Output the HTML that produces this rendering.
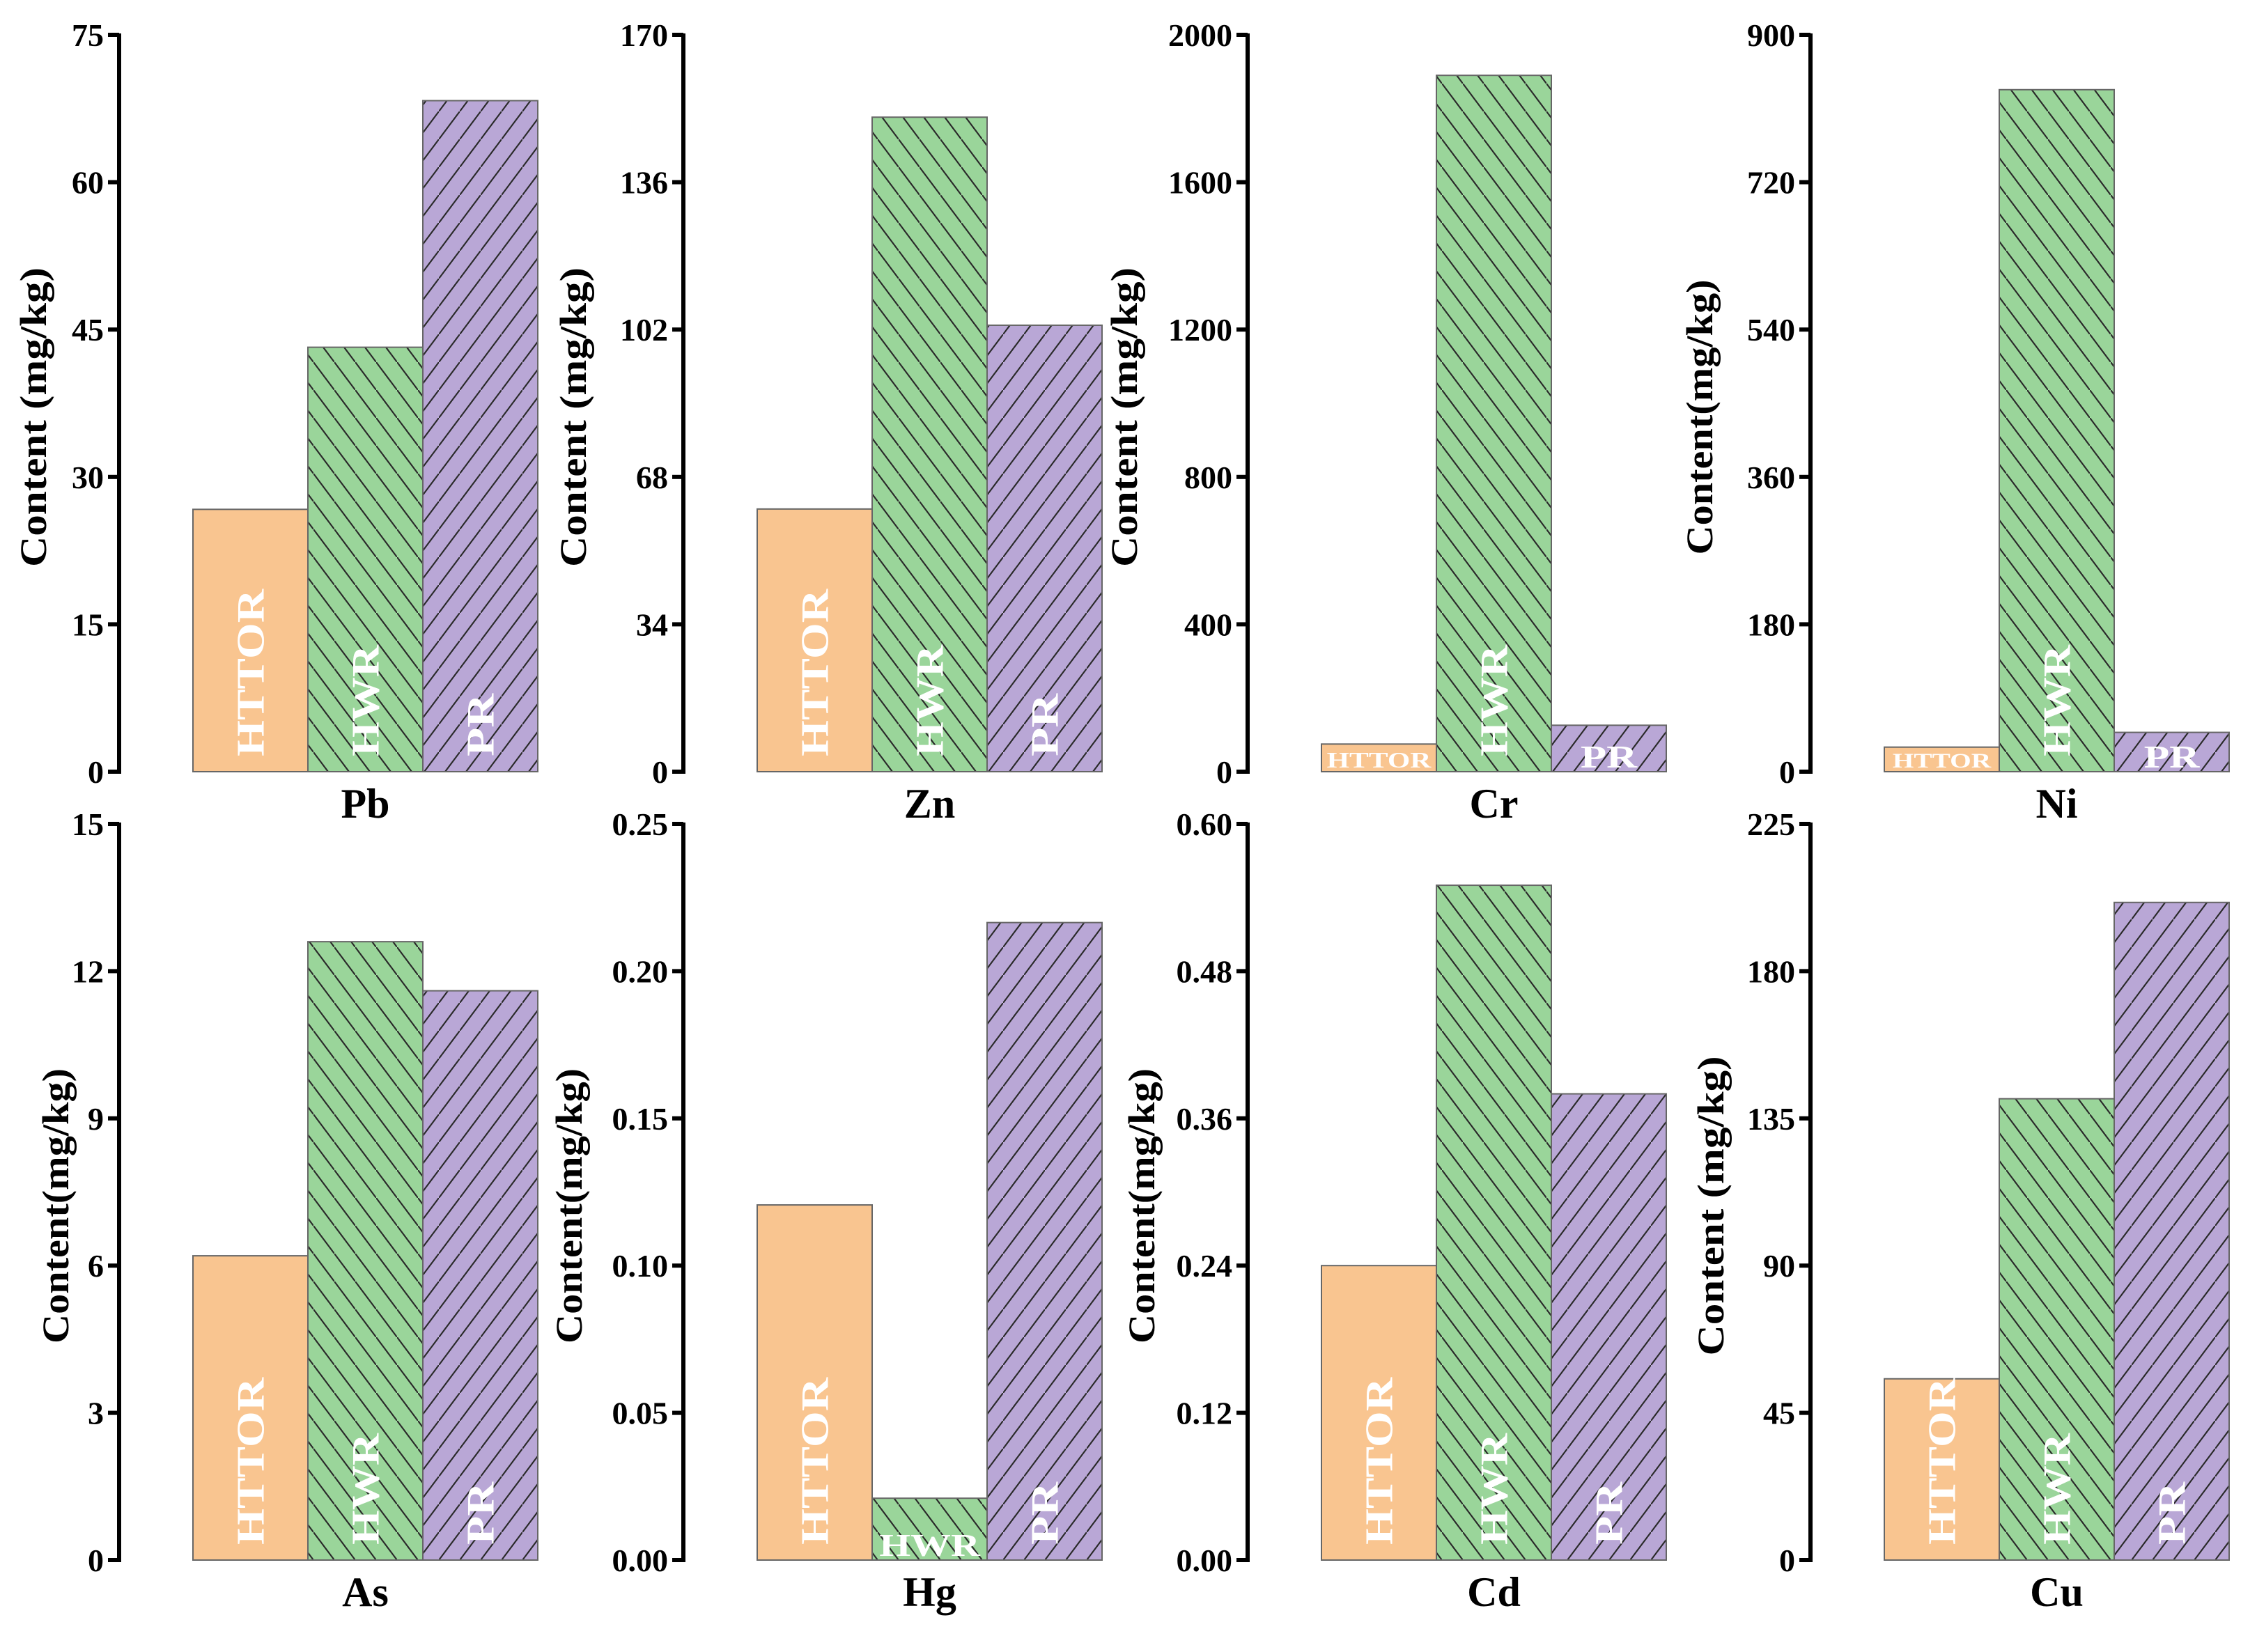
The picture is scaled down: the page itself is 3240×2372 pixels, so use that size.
<!DOCTYPE html>
<html><head><meta charset="utf-8">
<style>
html,body{margin:0;padding:0;background:#fff;}
svg{display:block;}
text{font-family:"Liberation Serif",serif;font-weight:bold;}
</style></head>
<body>
<svg id="chart" width="3240" height="2372" viewBox="0 0 3240 2372" xmlns="http://www.w3.org/2000/svg">
<defs>
<pattern id="hatchB" patternUnits="userSpaceOnUse" width="30" height="40">
<rect width="30" height="40" fill="#9ad59a"/>
<line x1="-15" y1="-20" x2="15" y2="20" stroke="#2a2a2a" stroke-width="2"/>
<line x1="0" y1="0" x2="30" y2="40" stroke="#2a2a2a" stroke-width="2"/>
<line x1="15" y1="20" x2="45" y2="60" stroke="#2a2a2a" stroke-width="2"/>
</pattern>
<pattern id="hatchF" patternUnits="userSpaceOnUse" width="30" height="40">
<rect width="30" height="40" fill="#b9a7d6"/>
<line x1="-15" y1="60" x2="15" y2="20" stroke="#2a2a2a" stroke-width="2"/>
<line x1="0" y1="40" x2="30" y2="0" stroke="#2a2a2a" stroke-width="2"/>
<line x1="15" y1="20" x2="45" y2="-20" stroke="#2a2a2a" stroke-width="2"/>
</pattern>
</defs>
<g id="panels"></g>
</svg>
<script>
const elements = ["Pb","Zn","Cr","Ni","As","Hg","Cd","Cu"];
const seriesNames = ["HTTOR","HWR","PR"];
const httorValues = [26.7, 60.6, 75, 30, 6.2, 0.1206, 0.24, 55.4];
const hwrValues = [43.2, 151, 1890, 833, 12.6, 0.021, 0.55, 141];
const prValues = [68.3, 103, 126, 48, 11.6, 0.2165, 0.38, 201];
const yMaxes = [75, 170, 2000, 900, 15, 0.25, 0.60, 225];
const tickLabels = [
  ["0","15","30","45","60","75"],
  ["0","34","68","102","136","170"],
  ["0","400","800","1200","1600","2000"],
  ["0","180","360","540","720","900"],
  ["0","3","6","9","12","15"],
  ["0.00","0.05","0.10","0.15","0.20","0.25"],
  ["0.00","0.12","0.24","0.36","0.48","0.60"],
  ["0","45","90","135","180","225"]
];
const yTitles = ["Content  (mg/kg)","Content  (mg/kg)","Content  (mg/kg)","Content(mg/kg)","Content(mg/kg)","Content(mg/kg)","Content(mg/kg)","Content  (mg/kg)"];

const NS = "http://www.w3.org/2000/svg";
const root = document.getElementById("panels");
const axisXs = [171, 981, 1791, 2599];
const rowTop = [50, 1183], rowZero = [1108, 2240];
const titleOff = [109, 144, 163, 145, 77, 150, 138, 129];
const barOff = 106, barW = 165;
const fills = ["#f9c590", "url(#hatchB)", "url(#hatchF)"];
const labelLen = [240, 160, 90];

function mk(tag, attrs, parent){
  const e = document.createElementNS(NS, tag);
  for (const k in attrs) e.setAttribute(k, attrs[k]);
  parent.appendChild(e);
  return e;
}

elements.forEach((el, i) => {
  const col = i % 4, row = Math.floor(i / 4);
  const ax = axisXs[col], top = rowTop[row], zero = rowZero[row];
  const yScale = v => zero - (v / yMaxes[i]) * (zero - top);
  const g = mk("g", {}, root);
  
  

  const vals = [httorValues[i], hwrValues[i], prValues[i]];
  vals.forEach((v, s) => {
    const x = ax + barOff + s * barW;
    const y = yScale(v);
    const h = zero - y;
    const r = mk("rect", {x: x, y: y, width: barW, height: h, fill: fills[s], stroke: "#666", "stroke-width": 2}, g);
    
    
    const cx = x + barW / 2;
    let t;
    if (h > labelLen[s] + 15) {
      t = mk("text", {x: 0, y: 0, fill: "#fff", "font-size": 56, "text-anchor": "start",
        textLength: labelLen[s], lengthAdjust: "spacingAndGlyphs",
        transform: "translate(" + (cx + 19) + "," + (zero - 22) + ") rotate(-90)"}, g);
    } else {
      const fs = Math.min(46, Math.max(30, h * 0.8));
      t = mk("text", {x: cx, y: zero - 6, fill: "#fff", "font-size": fs, "text-anchor": "middle",
        textLength: Math.min(barW - 14, labelLen[s] * fs / 56 * 1.1), lengthAdjust: "spacingAndGlyphs"}, g);
    }
    t.textContent = seriesNames[s];
    
    
  });

  const axis = mk("line", {x1: ax, y1: top - 2, x2: ax, y2: zero + 3, stroke: "#000", "stroke-width": 6}, g);
  
  
  tickLabels[i].forEach((lab, k) => {
    const val = yMaxes[i] * k / (tickLabels[i].length - 1);
    const y = yScale(val);
    const tk = mk("line", {x1: ax - 16, y1: y, x2: ax, y2: y, stroke: "#000", "stroke-width": 6}, g);
    
    
    const tl = mk("text", {x: ax - 22, y: y + 16, "font-size": 46, "text-anchor": "end"}, g);
    tl.textContent = lab;
    
    
  });

  const tx = ax - titleOff[i], ty = (top + zero) / 2 + 20;
  const yt = mk("text", {x: 0, y: 0, "font-size": 54, "text-anchor": "middle",
    textLength: yTitles[i].indexOf("  ") > 0 ? 430 : 395, lengthAdjust: "spacingAndGlyphs",
    transform: "translate(" + (tx + 4) + "," + ty + ") rotate(-90)", "xml:space": "preserve"}, g);
  yt.textContent = yTitles[i];
  
  

  const xl = mk("text", {x: ax + barOff + 1.5 * barW, y: zero + 66, "font-size": 60, "text-anchor": "middle"}, g);
  xl.textContent = el;
  
  
});
</script>
</body></html>
